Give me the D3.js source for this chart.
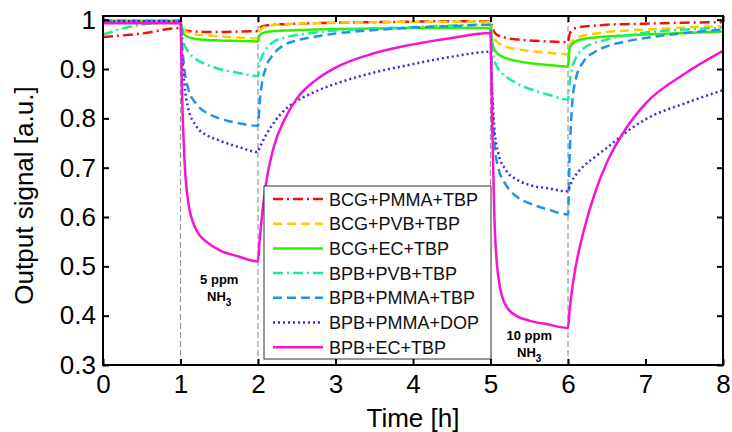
<!DOCTYPE html>
<html><head><meta charset="utf-8">
<script src="https://cdn.jsdelivr.net/npm/d3@7"></script>
<style>body{margin:0;background:#fff;} svg{display:block;font-family:"Liberation Sans",Arial,Helvetica,sans-serif;}</style>
</head><body><svg id="c" width="732" height="432"></svg>
<script>
const times = [0, 0.5, 1, 1.02, 1.05, 1.1, 1.2, 1.35, 1.5, 1.75, 2, 2.02, 2.05, 2.1, 2.2, 2.35, 2.5, 2.75, 3, 3.5, 4, 4.5, 5, 5.02, 5.05, 5.1, 5.2, 5.35, 5.5, 5.75, 6, 6.02, 6.05, 6.1, 6.2, 6.35, 6.5, 6.75, 7, 7.5, 8];
const seriesNames = ["BCG+PMMA+TBP","BCG+PVB+TBP","BCG+EC+TBP","BPB+PVB+TBP","BPB+PMMA+TBP","BPB+PMMA+DOP","BPB+EC+TBP"];
const bcgPmmaTbp = [0.965,0.972,0.983,0.980,0.978,0.977,0.976,0.975,0.975,0.976,0.977,0.982,0.986,0.988,0.990,0.991,0.992,0.993,0.994,0.995,0.996,0.997,0.997,0.985,0.975,0.968,0.963,0.960,0.958,0.956,0.954,0.970,0.978,0.983,0.986,0.988,0.990,0.991,0.992,0.994,0.995];
const bcgPvbTbp = [0.995,0.996,0.996,0.985,0.978,0.974,0.970,0.968,0.966,0.964,0.962,0.975,0.982,0.986,0.989,0.991,0.992,0.993,0.994,0.995,0.996,0.996,0.996,0.975,0.962,0.953,0.945,0.940,0.937,0.933,0.930,0.945,0.955,0.962,0.968,0.972,0.975,0.978,0.980,0.984,0.987];
const bcgEcTbp = [0.998,0.998,0.998,0.980,0.970,0.965,0.961,0.959,0.958,0.957,0.956,0.968,0.972,0.975,0.977,0.978,0.979,0.980,0.981,0.982,0.983,0.983,0.983,0.955,0.940,0.930,0.922,0.916,0.912,0.908,0.905,0.940,0.950,0.956,0.961,0.964,0.966,0.968,0.970,0.973,0.976];
const bpbPvbTbp = [0.970,0.990,0.995,0.970,0.950,0.935,0.920,0.908,0.900,0.892,0.886,0.910,0.925,0.940,0.955,0.964,0.969,0.974,0.978,0.982,0.985,0.988,0.990,0.950,0.920,0.900,0.885,0.870,0.860,0.848,0.838,0.870,0.900,0.922,0.942,0.953,0.960,0.968,0.974,0.980,0.984];
const bpbPmmaTbp = [0.998,0.998,0.998,0.950,0.900,0.860,0.830,0.810,0.800,0.790,0.785,0.830,0.870,0.902,0.930,0.950,0.958,0.966,0.972,0.979,0.984,0.987,0.990,0.850,0.750,0.700,0.665,0.640,0.628,0.615,0.605,0.720,0.820,0.880,0.915,0.935,0.946,0.956,0.963,0.973,0.980];
const bpbPmmaDop = [0.997,0.997,0.997,0.930,0.870,0.820,0.785,0.765,0.755,0.742,0.732,0.740,0.750,0.765,0.790,0.818,0.835,0.855,0.870,0.893,0.910,0.925,0.935,0.860,0.780,0.730,0.695,0.675,0.665,0.658,0.652,0.660,0.672,0.685,0.703,0.722,0.740,0.772,0.798,0.830,0.857];
const bpbEcTbp = [0.993,0.993,0.993,0.850,0.720,0.630,0.575,0.548,0.533,0.520,0.510,0.550,0.600,0.665,0.740,0.800,0.840,0.878,0.903,0.932,0.950,0.963,0.973,0.800,0.600,0.480,0.420,0.398,0.390,0.382,0.375,0.410,0.450,0.500,0.570,0.650,0.710,0.780,0.830,0.890,0.937];
const xTicks = [0,1,2,3,4,5,6,7,8];
const yTicks = [0.3,0.4,0.5,0.6,0.7,0.8,0.9,1];
const exposureLines = [1,2,5,6];

const colors = ["#f01212","#ffcc00","#33ee00","#19ee92","#1f93ea","#4a22dd","#f514d2"];
const dashes = ["10,4,2,4","9,5",null,"10,4,2,4","9,5","2,3",null];
const allValues = [bcgPmmaTbp,bcgPvbTbp,bcgEcTbp,bpbPvbTbp,bpbPmmaTbp,bpbPmmaDop,bpbEcTbp];

const svg = d3.select("#c");
const L=103,R=723,T=16,B=365;
const x = d3.scaleLinear().domain([0,8]).range([L,R]);
const y = d3.scaleLinear().domain([0.3,1.0075]).range([B,T]);

svg.append("defs").append("clipPath").attr("id","clip").append("rect").attr("x",L).attr("y",T).attr("width",R-L).attr("height",B-T);

svg.append("g").selectAll("line").data(exposureLines).join("line")
  .attr("x1",d=>x(d)).attr("x2",d=>x(d)).attr("y1",B).attr("y2",T)
  .attr("stroke","#9a9a9a").attr("stroke-width",1.2).attr("stroke-dasharray","6,3");

const line = d3.line().x(d=>x(d[0])).y(d=>y(d[1])).curve(d3.curveMonotoneX);
const g = svg.append("g").attr("clip-path","url(#clip)");
allValues.forEach((vals,i)=>{
  g.append("path").datum(times.map((t,j)=>[t,vals[j]]))
   .attr("d",line).attr("fill","none").attr("stroke",colors[i])
   .attr("stroke-width",2.5).attr("stroke-dasharray",dashes[i]);
});

const ann = svg.append("g").attr("font-weight","bold").attr("font-size",13).attr("text-anchor","middle");
ann.append("text").attr("x",x(1.5)).attr("y",284).text("5 ppm");
const n1 = ann.append("text").attr("x",x(1.5)).attr("y",301);
n1.append("tspan").text("NH");
n1.append("tspan").attr("font-size",10).attr("dy",5).text("3");
ann.append("text").attr("x",x(5.5)).attr("y",340).text("10 ppm");
const n2 = ann.append("text").attr("x",x(5.5)).attr("y",357);
n2.append("tspan").text("NH");
n2.append("tspan").attr("font-size",10).attr("dy",5).text("3");

const lg = svg.append("g");
const lx=264, ly=186, lw=227, lh=173, rowH=24.7;
lg.append("rect").attr("x",lx).attr("y",ly).attr("width",lw).attr("height",lh).attr("fill","#fff").attr("stroke","#333").attr("stroke-width",1);
seriesNames.forEach((n,i)=>{
  const yy = ly+13+rowH*i;
  lg.append("line").attr("x1",lx+9).attr("x2",lx+59).attr("y1",yy).attr("y2",yy)
    .attr("stroke",colors[i]).attr("stroke-width",2.5).attr("stroke-dasharray",dashes[i]);
  lg.append("text").attr("x",lx+65).attr("y",yy+6.5).attr("font-size",18).attr("fill","#111").text(n);
});

const axG = svg.append("g");
axG.append("rect").attr("x",L).attr("y",T).attr("width",R-L).attr("height",B-T).attr("fill","none").attr("stroke","#000").attr("stroke-width",2);
const xb = d3.axisBottom(x).tickValues(xTicks).tickSize(-6).tickPadding(10).tickFormat(d3.format("d"));
const xt = d3.axisTop(x).tickValues(xTicks).tickSize(-6).tickFormat("");
const yl = d3.axisLeft(y).tickValues(yTicks).tickSize(-6).tickPadding(7).tickFormat(d=>d===1?"1":d3.format(".1f")(d));
const yr = d3.axisRight(y).tickValues(yTicks).tickSize(-6).tickFormat("");
[[xb,`translate(0,${B})`],[xt,`translate(0,${T})`],[yl,`translate(${L},0)`],[yr,`translate(${R},0)`]].forEach(([a,tr])=>{
  const gg = axG.append("g").attr("transform",tr).call(a);
  gg.select(".domain").remove();
  gg.selectAll("line").attr("stroke","#000").attr("stroke-width",2);
  gg.selectAll("text").attr("font-size",26).attr("fill","#000").attr("font-family","Liberation Sans, Arial, sans-serif");
});
svg.append("text").attr("x",(L+R)/2).attr("y",427).attr("text-anchor","middle").attr("font-size",26).text("Time [h]");
svg.append("text").attr("transform",`translate(33,${(T+B)/2+5}) rotate(-90)`).attr("text-anchor","middle").attr("font-size",26).text("Output signal [a.u.]");
</script></body></html>
